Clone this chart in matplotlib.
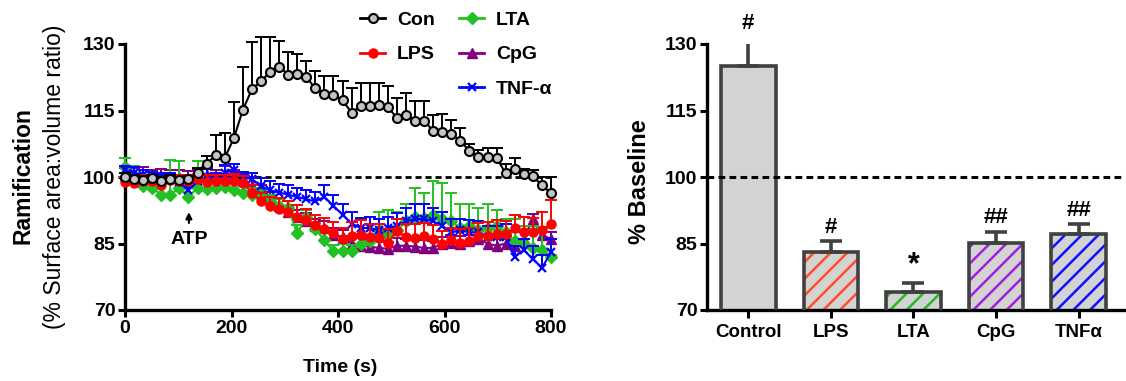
import numpy as np
import matplotlib
matplotlib.use("Agg")
import matplotlib.pyplot as plt
from matplotlib.lines import Line2D

plt.rcParams['font.family'] = ['Liberation Sans', 'DejaVu Sans']
plt.rcParams['hatch.linewidth'] = 1.8

# ---- time course data (48 frames, 0-800 s) ----
time_s = np.linspace(0, 800, 48)

con = [100.0, 99.6, 99.4, 99.7, 99.2, 99.6, 99.3, 99.5,
       100.8, 103.0, 104.9, 104.3, 108.7, 115.1, 119.8, 121.6, 123.7, 124.9,
       123.1, 123.2, 122.5, 120.0, 118.7, 118.5, 117.3, 114.5, 116.0, 116.0,
       116.2, 115.7, 113.4, 113.9, 112.7, 112.7, 110.4, 110.2, 109.8, 108.1,
       105.9, 104.5, 104.5, 104.3, 100.8, 101.7, 100.6, 100.2, 98.1, 96.4]
con_err = [0.8, 0.8, 0.8, 0.8, 0.8, 0.8, 0.8, 0.8,
           1.2, 1.8, 4.5, 5.7, 8.3, 9.8, 10.7, 9.9, 7.8, 5.8,
           5.0, 4.5, 3.6, 3.9, 4.1, 4.3, 4.3, 5.5, 5.3, 5.3,
           5.1, 4.8, 4.5, 5.1, 4.4, 4.4, 3.5, 3.9, 3.0, 3.0,
           1.5, 1.5, 2.1, 2.3, 2.2, 2.6, 1.3, 1.3, 1.9, 3.6]

lps = [98.9, 98.7, 99.1, 99.1, 98.1, 99.3, 99.1, 99.1, 99.5, 98.9,
       99.0, 99.1, 99.1, 98.7, 96.5, 94.5, 93.4, 92.8, 92.0, 91.0,
       90.2, 89.1, 88.3, 87.3, 86.0, 86.8, 87.0, 86.5, 86.2, 85.2,
       87.8, 86.5, 86.3, 86.7, 86.1, 84.9, 85.8, 85.2, 85.6, 86.6,
       86.8, 87.1, 87.1, 88.4, 87.6, 87.5, 88.1, 89.3]
lps_err = [1.2, 1.5, 1.3, 1.4, 1.5, 1.2, 1.3, 1.4, 1.2, 1.5,
           1.4, 1.3, 1.5, 1.6, 1.8, 2.0, 2.2, 2.4, 2.5, 2.6,
           2.5, 2.4, 2.4, 2.5, 2.6, 3.0, 3.3, 3.0, 3.2, 3.0,
           2.8, 3.0, 3.1, 3.0, 3.0, 3.0, 2.8, 3.0, 3.0, 3.1,
           3.0, 3.2, 3.0, 3.0, 3.3, 3.2, 4.0, 5.6]

lta = [102.3, 100.0, 98.0, 97.5, 96.0, 96.0, 97.5, 95.6, 97.5, 97.2,
       97.5, 97.8, 97.0, 96.5, 96.0, 95.5, 94.5, 93.5, 93.0, 87.3,
       91.0, 88.2, 85.8, 83.2, 83.4, 83.2, 85.0, 85.5, 88.0, 87.0,
       88.0, 90.0, 91.0, 90.8, 91.5, 90.5, 90.0, 88.5, 89.0, 88.0,
       88.5, 89.0, 87.5, 85.5, 85.0, 84.0, 83.5, 82.0]
lta_err = [2.0, 2.5, 2.5, 2.5, 3.0, 7.8, 6.0, 4.0, 6.0, 2.5,
           2.0, 1.8, 2.0, 2.0, 1.5, 1.5, 1.5, 1.5, 1.5, 1.8,
           1.5, 1.5, 1.5, 1.5, 1.5, 1.5, 1.5, 1.5, 4.0, 5.5,
           4.0, 4.0, 6.5, 5.5, 7.5, 8.2, 6.5, 5.5, 5.0, 5.0,
           5.5, 3.5, 3.0, 5.0, 4.0, 5.0, 5.0, 0.5]

cpg = [100.5, 100.3, 100.2, 99.8, 100.3, 99.8, 100.0, 99.7, 100.3, 100.5,
       100.0, 100.6, 100.0, 99.0, 98.0, 96.5, 95.0, 93.5, 92.0, 91.0,
       90.0, 89.0, 88.5, 87.0, 86.5, 85.0, 84.5, 84.3, 84.0, 83.8,
       84.5, 84.5, 84.3, 84.0, 84.0, 85.0, 85.2, 85.0, 85.5, 86.0,
       85.0, 84.5, 85.0, 84.5, 86.0, 90.5, 87.0, 86.0]
cpg_err = [1.5, 1.8, 2.0, 1.8, 1.6, 1.8, 1.5, 1.7, 1.5, 1.8,
           1.6, 1.8, 1.5, 1.6, 1.8, 1.6, 1.7, 1.6, 1.5, 1.6,
           1.8, 1.6, 1.5, 1.6, 1.5, 1.6, 1.8, 1.6, 1.5, 1.6,
           1.7, 1.5, 1.6, 1.8, 1.6, 1.5, 1.7, 1.6, 1.5, 1.8,
           1.6, 1.5, 1.7, 1.6, 1.5, 1.2, 1.6, 1.5]

tnf = [101.5, 101.0, 100.5, 100.0, 100.0, 99.5, 98.8, 97.0, 99.0, 100.0,
       99.5, 101.0, 101.5, 100.0, 99.5, 98.0, 97.0, 96.5, 96.0, 95.5,
       95.0, 94.5, 95.5, 93.5, 91.5, 89.5, 88.5, 88.5, 88.0, 88.5,
       89.0, 90.0, 90.5, 90.5, 90.0, 89.0, 87.5, 88.0, 87.5, 87.5,
       86.5, 86.5, 86.5, 82.0, 83.5, 81.5, 79.5, 83.0]
tnf_err = [1.0, 1.2, 1.0, 1.2, 1.0, 1.3, 1.2, 1.0, 1.5, 1.8,
           1.5, 1.8, 1.5, 1.2, 1.5, 1.8, 2.0, 2.0, 2.2, 2.0,
           2.0, 2.2, 2.8, 2.5, 2.5, 2.5, 2.2, 2.5, 2.5, 2.5,
           2.8, 3.0, 3.5, 3.5, 3.0, 3.0, 3.0, 2.5, 2.8, 2.5,
           2.5, 2.5, 2.8, 2.5, 2.5, 3.0, 3.0, 3.0]

# ---- summary bar data ----
groups = ['Control', 'LPS', 'LTA', 'CpG', 'TNF\u03b1']
bar_vals = [125.1, 83.0, 74.0, 85.1, 87.1]
bar_err = [6.5, 2.6, 2.1, 2.6, 2.2]
bar_sig = ['#', '#', '*', '##', '##']
hatch_cols = [None, '#ff4e2e', '#22bb22', '#a020e0', '#1010ff']

W, H = 1126, 381
fig = plt.figure(figsize=(W / 100, H / 100), dpi=100)
ax1 = fig.add_axes([125 / W, 1 - 310 / H, 426 / W, 266 / H])
ax2 = fig.add_axes([707 / W, 1 - 310 / H, 417 / W, 266 / H])

for ax in (ax1, ax2):
    for s in ('top', 'right'):
        ax.spines[s].set_visible(False)
    for s in ('left', 'bottom'):
        ax.spines[s].set_linewidth(2.4)
    ax.set_ylim(70, 130)
    ax.set_yticks([70, 85, 100, 115, 130])
    ax.tick_params(direction='out', length=5, width=2.2, labelsize=14, pad=2)
    for lab in ax.get_xticklabels() + ax.get_yticklabels():
        lab.set_fontweight('bold')

# ---- left panel ----
ax1.set_xlim(0, 800)
ax1.set_xticks([0, 200, 400, 600, 800])
for lab in ax1.get_xticklabels():
    lab.set_fontweight('bold')
ax1.plot([0, 800], [100, 100], color='k', lw=2, dashes=(2.2, 1.4), zorder=2)

series = [
    (cpg, cpg_err, '#800080', dict(marker='^', ms=6.5, mfc='#800080', mec='#800080'), 3),
    (lta, lta_err, '#22c022', dict(marker='D', ms=6, mfc='#22c022', mec='#22c022'), 4),
    (tnf, tnf_err, '#0000ff', dict(marker='x', ms=6, mew=1.6, mec='#0000ff'), 5),
    (lps, lps_err, '#ff0000', dict(marker='o', ms=6.5, mfc='#ff0000', mec='#ff0000'), 6),
    (con, con_err, 'k', dict(marker='o', ms=6.5, mfc='#c4c4c4', mec='k', mew=1.5), 7),
]
for vals, err, col, mk, z in series:
    vals = np.array(vals)
    top = vals + np.array(err)
    ax1.vlines(time_s, vals, top, color=col, lw=1.4, zorder=z, clip_on=False)
    ax1.plot(time_s, top, ls='none', marker='_', ms=8, mew=1.4, color=col,
             zorder=z, clip_on=False)
    ax1.plot(time_s, vals, color=col, lw=1.5, zorder=z + 0.5, clip_on=False, **mk)

ax1.annotate('', xy=(120, 92.7), xytext=(120, 89.0),
             arrowprops=dict(arrowstyle='-|>', color='k', lw=1.5, mutation_scale=9))
ax1.text(120, 86.0, 'ATP', ha='center', va='center', fontsize=14, fontweight='bold')

h_con = Line2D([], [], color='k', lw=2, marker='o', ms=6.5, mfc='#c4c4c4', mec='k', mew=1.5)
h_lps = Line2D([], [], color='#ff0000', lw=2, marker='o', ms=6.5, mfc='#ff0000', mec='#ff0000')
h_lta = Line2D([], [], color='#22c022', lw=2, marker='D', ms=6, mfc='#22c022', mec='#22c022')
h_cpg = Line2D([], [], color='#800080', lw=2, marker='^', ms=6.5, mfc='#800080', mec='#800080')
h_tnf = Line2D([], [], color='#0000ff', lw=2, marker='x', ms=6, mew=1.6)
leg_kw = dict(frameon=False, handlelength=1.3, handletextpad=0.6,
              labelspacing=0.88, borderpad=0, borderaxespad=0, loc='upper left',
              bbox_transform=fig.transFigure, prop=dict(weight='bold', size=14))
leg1 = ax1.legend([h_con, h_lps], ['Con', 'LPS'], bbox_to_anchor=(360 / W, 1 - 11 / H), **leg_kw)
ax1.add_artist(leg1)
ax1.legend([h_lta, h_cpg, h_tnf], ['LTA', 'CpG', 'TNF-\u03b1'],
           bbox_to_anchor=(459 / W, 1 - 11 / H), **leg_kw)

fig.text(23 / W, 1 - 176 / H, 'Ramification', rotation=90, ha='center', va='center',
         fontsize=16.5, fontweight='bold')
fig.text(54 / W, 1 - 177 / H, '(% Surface area:volume ratio)', rotation=90,
         ha='center', va='center', fontsize=16.5)
fig.text(340 / W, 1 - 367 / H, 'Time (s)', ha='center', va='center',
         fontsize=14, fontweight='bold')

# ---- right panel ----
xpos = np.arange(len(groups))
ax2.set_xlim(-0.5, 4.55)
for i in range(len(groups)):
    if hatch_cols[i] is None:
        ax2.bar(xpos[i], bar_vals[i], 0.66, color='#d3d3d3', lw=0, zorder=2)
    else:
        ax2.bar(xpos[i], bar_vals[i], 0.66, color='#d3d3d3', edgecolor=hatch_cols[i],
                hatch='//', lw=0, zorder=2)
ax2.bar(xpos, bar_vals, 0.66, fill=False, edgecolor='#404040', lw=2.6, zorder=3)
ax2.errorbar(xpos, bar_vals, yerr=[np.zeros(len(bar_err)), bar_err], fmt='none',
             ecolor='#404040', elinewidth=2.6, capsize=8, capthick=2.6, zorder=3)
ax2.axhline(100, color='k', lw=2.2, dashes=(2.2, 1.4), zorder=4)
for i in range(len(groups)):
    y = bar_vals[i] + bar_err[i]
    if bar_sig[i] == '*':
        ax2.text(xpos[i], y + 0.6, '*', ha='center', va='bottom', fontsize=22,
                 fontweight='bold')
    else:
        ax2.text(xpos[i], y + 3.1, bar_sig[i], ha='center', va='center', fontsize=16,
                 fontweight='bold')
ax2.set_xticks(xpos)
ax2.set_xticklabels(groups, fontsize=13.5, fontweight='bold')
ax2.tick_params(axis='x', length=6, width=2.2, pad=4)
for lab in ax2.get_yticklabels():
    lab.set_fontweight('bold')
fig.text(640 / W, 1 - 182 / H, '% Baseline', rotation=90, ha='center', va='center',
         fontsize=17, fontweight='bold')

fig.savefig('out.png', dpi=100)
